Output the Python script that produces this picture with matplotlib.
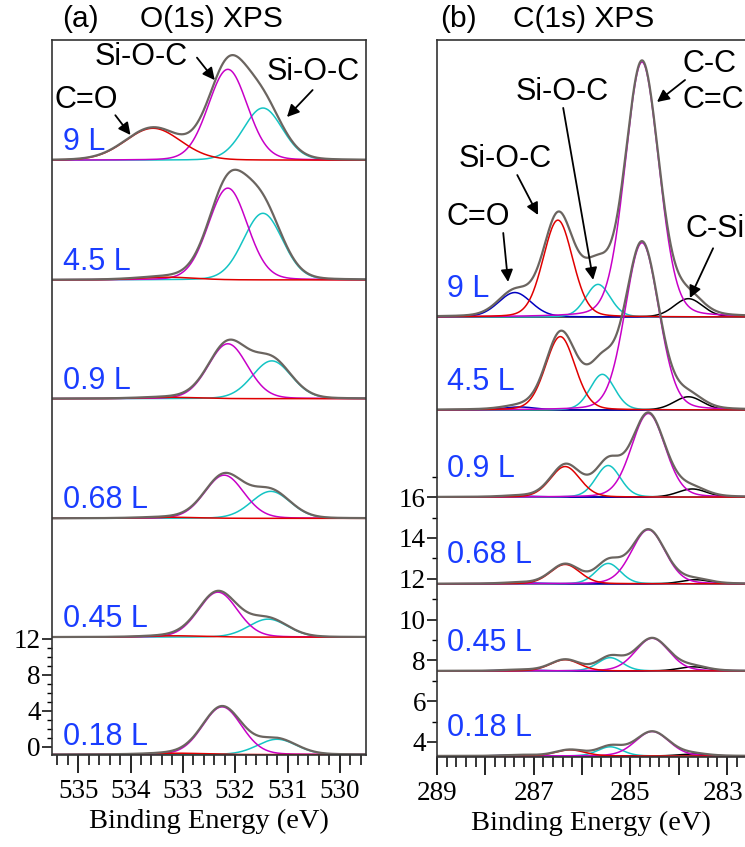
import numpy as np
import matplotlib
matplotlib.use("Agg")
import matplotlib.pyplot as plt
import matplotlib.transforms as mtransforms
from matplotlib.ticker import MultipleLocator, FixedLocator, FuncFormatter

# --------- DATA ----------
DOSES = ["9 L", "4.5 L", "0.9 L", "0.68 L", "0.45 L", "0.18 L"]

# O(1s): stacking offset of each spectrum, fitted peaks (position in eV, height)
O_OFFSET = [65.2, 51.9, 38.7, 25.4, 12.2, -0.85]
O_CO_POS = [533.57, 533.30, 533.25, 533.25, 533.15, 533.10]
O_CO_AMP = [3.55, 0.30, 0.15, 0.12, 0.15, 0.15]
O_SIOC1_POS = [532.14, 532.14, 532.14, 532.21, 532.33, 532.25]
O_SIOC1_AMP = [10.1, 10.2, 6.1, 4.8, 5.0, 5.3]
O_SIOC2_POS = [531.47, 531.47, 531.30, 531.32, 531.37, 531.20]
O_SIOC2_AMP = [5.8, 7.4, 4.2, 3.0, 2.0, 1.7]
O_FWHM = {"co": 1.25, "sioc1": 0.88, "sioc2": 0.88}

# C(1s)
C_OFFSET = [24.83, 20.27, 16.0, 11.75, 7.48, 3.31]
C_CO_POS = [287.39, 287.30, 287.30, 287.30, 287.30, 287.30]
C_CO_AMP = [1.2, 0.15, 0.05, 0.05, 0.05, 0.05]
C_SIOC1_POS = [286.50, 286.45, 286.35, 286.35, 286.35, 286.25]
C_SIOC1_AMP = [4.75, 3.6, 1.5, 0.95, 0.55, 0.3]
C_SIOC2_POS = [285.67, 285.58, 285.46, 285.46, 285.42, 285.42]
C_SIOC2_AMP = [1.6, 1.75, 1.55, 1.0, 0.65, 0.45]
C_CC_POS = [284.76, 284.76, 284.63, 284.63, 284.55, 284.55]
C_CC_AMP = [12.5, 8.2, 4.1, 2.65, 1.6, 1.2]
C_CSI_POS = [283.80, 283.80, 283.72, 283.65, 283.70, 283.70]
C_CSI_AMP = [0.9, 0.65, 0.4, 0.2, 0.2, 0.1]
# measured spectrum sits above the fit sum in the Si-O-C / C-C valley
C_VALLEY_POS = 285.95
C_VALLEY_AMP = [0.8, 0.5, 0.15, 0.0, 0.0, 0.0]
C_FWHM = {"co": 0.8, "sioc1": 0.72, "sioc2": 0.6, "cc": 0.82, "csi": 0.7, "valley": 0.8}
# ---------------------------

GREY = "#6b6560"
MAG = "#c800c8"
CYAN = "#14c4c4"
RED = "#e00000"
BLUE = "#0000c0"
LBLUE = "#1a3dff"
SANS = "Liberation Sans"

plt.rcParams["font.family"] = ["Liberation Serif", "DejaVu Serif"]


def peak(x, pos, amp, fwhm, eta):
    u = (x - pos) / fwhm
    return amp * ((1 - eta) * np.exp(-4 * np.log(2) * u ** 2) + eta / (1 + 4 * u ** 2))


def style_axes(ax):
    for s in ax.spines.values():
        s.set_linewidth(1.2)
        s.set_color("#333333")
    ax.tick_params(axis="x", which="major", direction="out", length=13, width=1.2,
                   labelsize=19.5, pad=4)
    ax.tick_params(axis="x", which="minor", direction="out", length=7, width=1.1)
    ax.tick_params(axis="y", which="major", direction="out", length=7, width=1.1,
                   labelsize=19.5, pad=1)
    ax.tick_params(axis="y", which="minor", direction="out", length=3.5, width=1.0)


def arrow(ax, tail, head):
    ax.annotate("", xy=head, xytext=tail,
                arrowprops=dict(arrowstyle="-|>", color="k", lw=1.3,
                                mutation_scale=18, shrinkA=0, shrinkB=0))


fig = plt.figure(figsize=(7.45, 8.47), dpi=100)

# ---------- (a) O(1s) ----------
ax1 = fig.add_axes([52 / 745, 92 / 847, 314 / 745, 715 / 847])
eo = np.linspace(535.5, 529.5, 600)
for i, dose in enumerate(DOSES):
    off = O_OFFSET[i]
    co = peak(eo, O_CO_POS[i], O_CO_AMP[i], O_FWHM["co"], 0.1)
    s1 = peak(eo, O_SIOC1_POS[i], O_SIOC1_AMP[i], O_FWHM["sioc1"], 0.1)
    s2 = peak(eo, O_SIOC2_POS[i], O_SIOC2_AMP[i], O_FWHM["sioc2"], 0.1)
    ax1.plot(eo, off + s2, color=CYAN, lw=1.1)
    ax1.plot(eo, off + s1, color=MAG, lw=1.1)
    ax1.plot(eo, off + co, color=RED, lw=1.1)
    ax1.plot(eo, off + co + s1 + s2, color=GREY, lw=1.6)
    ax1.text(535.29, off + 1.1, dose, color=LBLUE, fontsize=22, family=SANS,
             va="baseline", ha="left")

ax1.set_xlim(535.5, 529.5)
ax1.set_ylim(-0.9, 78.56)
ax1.xaxis.set_major_locator(MultipleLocator(1))
ax1.xaxis.set_minor_locator(MultipleLocator(0.2))
ax1.yaxis.set_major_locator(FixedLocator([0, 4, 8, 12]))
ax1.yaxis.set_minor_locator(FixedLocator(range(0, 13)))
style_axes(ax1)
ax1.set_xlabel("Binding Energy (eV)", fontsize=20.5, labelpad=4)

ax1.text(534.85, 71.0, "C=O", fontsize=22, family=SANS, ha="center", va="baseline")
arrow(ax1, (534.29, 70.2), (534.0, 68.0))
ax1.text(533.79, 75.8, "Si-O-C", fontsize=22, family=SANS, ha="center", va="baseline")
arrow(ax1, (532.73, 76.6), (532.39, 74.1))
ax1.text(530.50, 74.1, "Si-O-C", fontsize=22, family=SANS, ha="center", va="baseline")
arrow(ax1, (530.52, 73.0), (531.01, 70.0))

# ---------- (b) C(1s) ----------
ax2 = fig.add_axes([437 / 745, 90 / 847, 308 / 745, 717 / 847])
ec = np.linspace(289, 282.6, 700)
for i, dose in enumerate(DOSES):
    off = C_OFFSET[i]
    co = peak(ec, C_CO_POS[i], C_CO_AMP[i], C_FWHM["co"], 0.15)
    s1 = peak(ec, C_SIOC1_POS[i], C_SIOC1_AMP[i], C_FWHM["sioc1"], 0.15)
    s2 = peak(ec, C_SIOC2_POS[i], C_SIOC2_AMP[i], C_FWHM["sioc2"], 0.15)
    cc = peak(ec, C_CC_POS[i], C_CC_AMP[i], C_FWHM["cc"], 0.15)
    csi = peak(ec, C_CSI_POS[i], C_CSI_AMP[i], C_FWHM["csi"], 0.15)
    valley = peak(ec, C_VALLEY_POS, C_VALLEY_AMP[i], C_FWHM["valley"], 0.0)
    ax2.plot(ec, off + csi, color="k", lw=1.1)
    ax2.plot(ec, off + co, color=BLUE, lw=1.1)
    ax2.plot(ec, off + s2, color=CYAN, lw=1.1)
    ax2.plot(ec, off + cc, color=MAG, lw=1.1)
    ax2.plot(ec, off + s1, color=RED, lw=1.1)
    ax2.plot(ec, off + co + s1 + s2 + cc + csi + valley, color=GREY, lw=1.6)
    ax2.text(288.79, off + 1.0, dose, color=LBLUE, fontsize=22, family=SANS,
             va="baseline", ha="left")

ax2.set_xlim(289, 282.63)
ax2.set_ylim(3.26, 38.41)
ax2.xaxis.set_major_locator(MultipleLocator(1))
ax2.xaxis.set_minor_locator(MultipleLocator(0.2))
ax2.xaxis.set_major_formatter(FuncFormatter(lambda v, p: f"{v:.0f}" if round(v) % 2 == 1 else ""))
ax2.yaxis.set_major_locator(FixedLocator([4, 6, 8, 10, 12, 14, 16]))
ax2.yaxis.set_minor_locator(FixedLocator([5, 7, 9, 11, 13, 15, 17]))
style_axes(ax2)
ax2.spines["right"].set_visible(False)
ax2.set_xlabel("Binding Energy (eV)", fontsize=20.5, labelpad=4)

ax2.text(288.15, 29.34, "C=O", fontsize=22, family=SANS, ha="center", va="baseline")
arrow(ax2, (287.63, 28.95), (287.53, 26.55))
ax2.text(287.59, 32.19, "Si-O-C", fontsize=22, family=SANS, ha="center", va="baseline")
arrow(ax2, (287.34, 31.79), (286.91, 29.83))
ax2.text(286.41, 35.47, "Si-O-C", fontsize=22, family=SANS, ha="center", va="baseline")
arrow(ax2, (286.39, 35.08), (285.77, 26.65))
ax2.text(283.93, 36.84, "C-C", fontsize=22, family=SANS, ha="left", va="baseline")
ax2.text(283.93, 35.08, "C=C", fontsize=22, family=SANS, ha="left", va="baseline")
arrow(ax2, (283.87, 36.45), (284.45, 35.37))
ax2.text(283.87, 28.75, "C-Si", fontsize=22, family=SANS, ha="left", va="baseline")
arrow(ax2, (283.29, 28.2), (283.77, 25.76))

# panel titles
fig.text(62 / 745, 0.968, "(a)", fontsize=21.5, family=SANS, va="baseline")
fig.text(140 / 745, 0.968, "O(1s) XPS", fontsize=21.5, family=SANS, va="baseline")
fig.text(440 / 745, 0.968, "(b)", fontsize=21.5, family=SANS, va="baseline")
fig.text(513 / 745, 0.968, "C(1s) XPS", fontsize=21.5, family=SANS, va="baseline")

# nudge the last tick label so it stays inside the figure edge
fig.canvas.draw()
for tick in ax2.xaxis.get_major_ticks():
    if abs(tick.get_loc() - 283) < 1e-6:
        lbl = tick.label1
        lbl.set_transform(lbl.get_transform() +
                          mtransforms.ScaledTranslation(-3 / 72, 0, fig.dpi_scale_trans))

fig.savefig("out.png", dpi=100)
